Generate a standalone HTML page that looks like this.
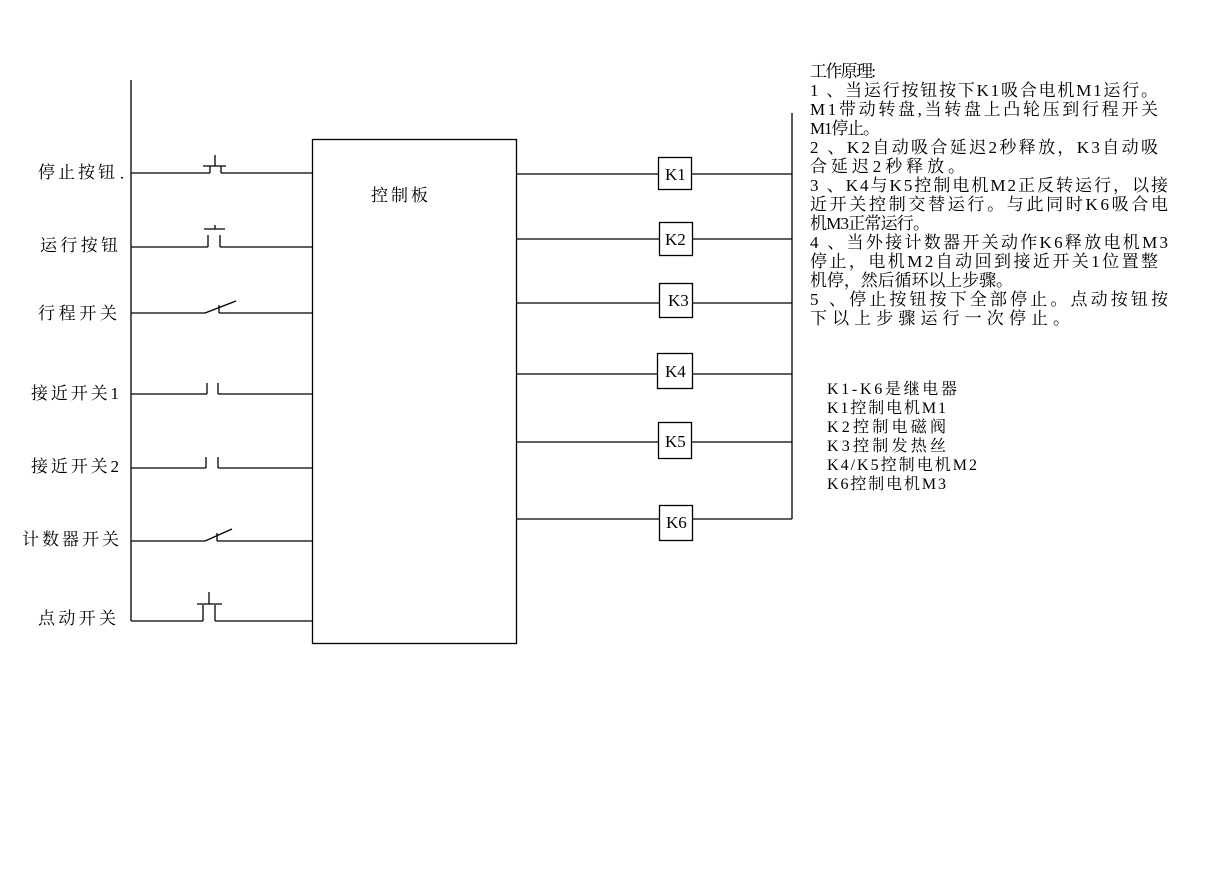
<!DOCTYPE html>
<html><head><meta charset="utf-8"><style>
body{margin:0;background:#fff;}
svg text{font-family:"Liberation Serif","Noto Serif CJK SC",serif;fill:#000;}
</style></head><body>
<svg width="1216" height="876" viewBox="0 0 1216 876" xmlns="http://www.w3.org/2000/svg">
<g stroke="#000" stroke-width="1.3" fill="none">
<line x1="131" y1="80" x2="131" y2="621"/>
<rect x="312.5" y="139.5" width="204" height="504"/>
<line x1="131" y1="173" x2="210" y2="173"/><line x1="210" y1="166" x2="210" y2="173"/>
<line x1="221" y1="166" x2="221" y2="173"/><line x1="221" y1="173" x2="312" y2="173"/>
<line x1="203" y1="166" x2="226" y2="166"/><line x1="215" y1="155" x2="215" y2="166"/>
<line x1="131" y1="247" x2="208" y2="247"/><line x1="208" y1="235" x2="208" y2="247"/>
<line x1="220" y1="235" x2="220" y2="247"/><line x1="220" y1="247" x2="312" y2="247"/>
<line x1="204" y1="229" x2="225" y2="229"/><line x1="215" y1="225" x2="215" y2="229"/>
<line x1="131" y1="313" x2="205" y2="313"/><line x1="205" y1="313" x2="236" y2="301"/>
<line x1="219" y1="305" x2="219" y2="313"/><line x1="219" y1="313" x2="312" y2="313"/>
<line x1="131" y1="394" x2="207" y2="394"/><line x1="207" y1="383" x2="207" y2="394"/>
<line x1="218" y1="383" x2="218" y2="394"/><line x1="218" y1="394" x2="312" y2="394"/>
<line x1="131" y1="468" x2="206" y2="468"/><line x1="206" y1="457" x2="206" y2="468"/>
<line x1="218" y1="457" x2="218" y2="468"/><line x1="218" y1="468" x2="312" y2="468"/>
<line x1="131" y1="541" x2="205" y2="541"/><line x1="205" y1="541" x2="232" y2="529"/>
<line x1="217" y1="533" x2="217" y2="541"/><line x1="217" y1="541" x2="312" y2="541"/>
<line x1="131" y1="621" x2="203" y2="621"/><line x1="203" y1="605" x2="203" y2="621"/>
<line x1="215" y1="605" x2="215" y2="621"/><line x1="215" y1="621" x2="312" y2="621"/>
<line x1="197" y1="604" x2="222" y2="604"/><line x1="209" y1="592" x2="209" y2="604"/>
<line x1="792" y1="113" x2="792" y2="519"/>
<line x1="516" y1="174" x2="658" y2="174"/><line x1="692" y1="174" x2="792" y2="174"/>
<rect x="658.5" y="157.5" width="33" height="32"/>
<line x1="516" y1="239" x2="659" y2="239"/><line x1="692" y1="239" x2="792" y2="239"/>
<rect x="659.5" y="222.5" width="33" height="33"/>
<line x1="516" y1="303" x2="659" y2="303"/><line x1="692" y1="303" x2="792" y2="303"/>
<rect x="659.5" y="283.5" width="33" height="34"/>
<line x1="516" y1="374" x2="657" y2="374"/><line x1="692" y1="374" x2="792" y2="374"/>
<rect x="657.5" y="353.5" width="35" height="35"/>
<line x1="516" y1="442" x2="658" y2="442"/><line x1="692" y1="442" x2="792" y2="442"/>
<rect x="658.5" y="422.5" width="33" height="36"/>
<line x1="516" y1="519" x2="659" y2="519"/><line x1="692" y1="519" x2="792" y2="519"/>
<rect x="659.5" y="505.5" width="33" height="35"/>
</g>
<rect x="121" y="177" width="2" height="1.5" fill="#000"/>
<g font-size="17" lengthAdjust="spacing">
<text x="38" y="178" textLength="77">停止按钮</text>
<text x="40" y="251" textLength="78">运行按钮</text>
<text x="38" y="319" textLength="79">行程开关</text>
<text x="31" y="399" textLength="88">接近开关1</text>
<text x="31" y="472" textLength="88">接近开关2</text>
<text x="22" y="545" textLength="97">计数器开关</text>
<text x="38" y="624" textLength="78">点动开关</text>
<text x="371" y="201" textLength="57">控制板</text>
</g>
<g font-size="17">
<text x="665" y="180">K1</text>
<text x="665" y="245">K2</text>
<text x="668" y="306">K3</text>
<text x="665" y="377">K4</text>
<text x="665" y="447">K5</text>
<text x="666" y="528">K6</text>
</g>
<g font-size="17" lengthAdjust="spacing">
<text x="810" y="77" textLength="66">工作原理:</text>
<text x="810" y="96" textLength="348">1 、当运行按钮按下K1吸合电机M1运行。</text>
<text x="810" y="115" textLength="348">M1带动转盘,当转盘上凸轮压到行程开关</text>
<text x="810" y="134" textLength="70">M1停止。</text>
<text x="810" y="153" textLength="348">2 、K2自动吸合延迟2秒释放，K3自动吸</text>
<text x="810" y="172" textLength="155">合延迟2秒释放。</text>
<text x="810" y="191" textLength="358">3 、K4与K5控制电机M2正反转运行，以接</text>
<text x="810" y="210" textLength="358">近开关控制交替运行。与此同时K6吸合电</text>
<text x="810" y="229" textLength="120">机M3正常运行。</text>
<text x="810" y="248" textLength="358">4 、当外接计数器开关动作K6释放电机M3</text>
<text x="810" y="267" textLength="348">停止，电机M2自动回到接近开关1位置整</text>
<text x="810" y="286" textLength="203">机停，然后循环以上步骤。</text>
<text x="810" y="305" textLength="358">5 、停止按钮按下全部停止。点动按钮按</text>
<text x="810" y="324" textLength="260">下以上步骤运行一次停止。</text>
</g>
<g font-size="16" lengthAdjust="spacing">
<text x="827" y="394" textLength="130">K1-K6是继电器</text>
<text x="827" y="413" textLength="119">K1控制电机M1</text>
<text x="827" y="432" textLength="119">K2控制电磁阀</text>
<text x="827" y="451" textLength="119">K3控制发热丝</text>
<text x="827" y="470" textLength="150">K4/K5控制电机M2</text>
<text x="827" y="489" textLength="119">K6控制电机M3</text>
</g>
</svg>
</body></html>
